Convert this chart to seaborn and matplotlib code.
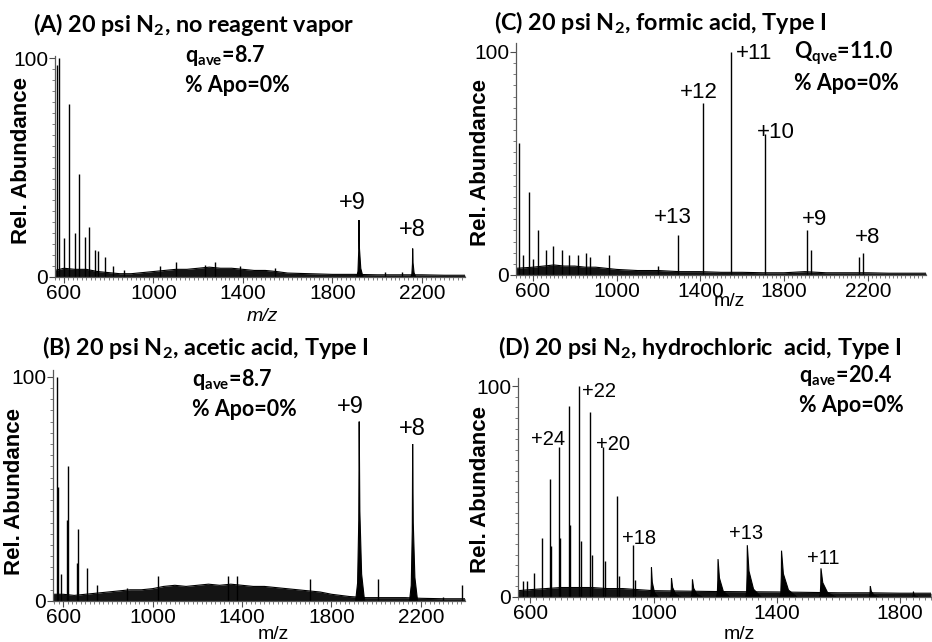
import numpy as np
import pandas as pd
import matplotlib
matplotlib.use("Agg")
import matplotlib.pyplot as plt
import seaborn as sns
from matplotlib.ticker import MultipleLocator, FixedLocator

sns.set_theme(style="ticks")
plt.rcParams['font.family'] = ['Liberation Sans', 'DejaVu Sans']
plt.rcParams['mathtext.fontset'] = 'custom'
plt.rcParams['mathtext.rm'] = 'Lato:bold'
plt.rcParams['mathtext.it'] = 'Lato:bold'
plt.rcParams['mathtext.bf'] = 'Lato:bold'

# ---- panel A : no reagent vapor ----
a_stick_mz = [570, 579, 602, 623, 649, 667, 694, 711, 739, 754, 784, 821, 870, 1029, 1099, 1231, 1275, 1387, 1544, 2035, 2110]
a_stick_h = [97, 100, 18, 79, 20, 47, 18.5, 23, 12.5, 12, 9, 5, 3, 5, 7, 5.6, 7, 5, 4, 2.5, 2.5]
a_broad_mz = [1919, 2159]
a_broad_h = [26, 13]
a_broad_wl = [10, 8]
a_broad_wr = [18, 14]
a_base_mz = [560, 600, 650, 700, 750, 800, 850, 900, 950, 1000, 1050, 1100, 1150, 1200, 1250, 1300, 1350, 1400,
             1450, 1500, 1550, 1600, 1700, 1800, 1900, 2000, 2100, 2200, 2300, 2393]
a_base_h = [3, 4, 3.5, 3.5, 2.5, 2, 1.5, 1.5, 2, 2.5, 3, 3.5, 3.5, 4, 4.5, 4, 4, 3.5,
            3, 3, 2.5, 1.8, 1.5, 1.2, 1.2, 1, 1, 1, 0.8, 0.8]
a_labels = ['+9', '+8']
a_label_mz = [1888, 2156]
a_label_y = [34, 21.5]

# ---- panel B : acetic acid ----
b_stick_mz = [574, 579, 591, 616, 622, 661, 665, 708, 750, 884, 1026, 1339, 1376, 1704, 2009, 2300, 2382]
b_stick_h = [100, 51, 12, 36, 60, 17, 32, 14.5, 7, 6, 11, 11, 11, 10, 9.6, 2, 7]
b_broad_mz = [1924, 2163]
b_broad_h = [80, 70]
b_broad_wl = [16, 14]
b_broad_wr = [24, 22]
b_base_mz = [555, 600, 650, 700, 750, 800, 850, 900, 950, 1000, 1050, 1100, 1150, 1200, 1250, 1300, 1350, 1400,
             1450, 1500, 1550, 1600, 1650, 1700, 1750, 1800, 1880, 1950, 2050, 2130, 2200, 2300, 2397]
b_base_h = [3, 3, 2.5, 3, 3.5, 4, 4.5, 5, 5, 5.5, 6.5, 7, 6.5, 7, 7.5, 7, 7.5, 7,
            6.5, 6.5, 6, 5.5, 5, 4.5, 4, 3, 2, 1.5, 1.5, 1.5, 1.2, 1, 1]
b_labels = ['+9', '+8']
b_label_mz = [1883, 2160]
b_label_y = [86.7, 76.9]

# ---- panel C : formic acid ----
c_stick_mz = [535, 551, 583, 599, 623, 662, 697, 739, 774, 814, 854, 873, 965, 1196,
              1293, 1411, 1546, 1711, 1908, 1929, 2160, 2179]
c_stick_h = [59, 9, 37, 7, 20, 11, 13, 11, 9, 9, 10, 8, 9, 4,
             18, 77, 100, 63, 20, 11, 8, 10]
c_base_mz = [519, 600, 650, 700, 750, 800, 850, 900, 950, 1000, 1100, 1200, 1300, 1400, 1500, 1600, 1700,
             1800, 1900, 2000, 2100, 2200, 2300, 2478]
c_base_h = [3, 3.5, 4, 4.5, 4, 4, 3.5, 3.5, 3, 2.5, 2, 2, 1.5, 1.5, 1.2, 1.2, 1, 1, 1.5, 1, 1, 1, 0.8, 0.8]
c_labels = ['+11', '+12', '+10', '+13', '+9', '+8']
c_label_mz = [1656, 1394, 1762, 1269, 1943, 2201]
c_label_y = [99.5, 82, 63.7, 25.6, 24.7, 17]

# ---- panel D : hydrochloric acid ----
d_stick_mz = [575, 588, 613, 638, 664, 667, 692, 696, 724, 728, 757, 765, 795, 801,
              835, 841, 882, 888, 933, 940]
d_stick_h = [7.6, 7.6, 11.5, 27.8, 56, 24, 71, 28, 90.5, 34, 100, 26.5, 88, 20,
             71, 17, 48, 10, 24.6, 8]
d_broad_mz = [993, 1058, 1126, 1209, 1304, 1415, 1543, 1703, 1843]
d_broad_h = [14, 9, 8.4, 18, 24.6, 22, 13.6, 5.2, 2.5]
d_broad_wl = [4, 5, 5, 5, 5, 5, 5, 4, 3]
d_broad_wr = [22, 30, 32, 38, 45, 50, 48, 28, 14]
d_base_mz = [560, 600, 650, 700, 750, 800, 850, 900, 1000, 1100, 1200, 1300, 1400, 1500, 1600, 1700, 1800, 1900]
d_base_h = [3, 3.5, 4, 4.5, 4.5, 4.5, 4, 4, 3, 2.8, 2.6, 2.5, 2.4, 2.2, 2, 2, 1.8, 1.8]
d_labels = ['+24', '+22', '+20', '+18', '+13', '+11']
d_label_mz = [658, 823, 869, 953, 1301, 1552]
d_label_y = [74.9, 97.6, 72.5, 28, 30.3, 18.5]

titles = ['(A) 20 psi N$_{2}$, no reagent vapor',
          '(B) 20 psi N$_{2}$, acetic acid, Type I',
          '(C) 20 psi N$_{2}$, formic acid, Type I',
          '(D) 20 psi N$_{2}$, hydrochloric  acid, Type I']
charge_text = ['q$_{ave}$=8.7', 'q$_{ave}$=8.7', 'Q$_{qve}$=11.0', 'q$_{ave}$=20.4']
apo_text = ['% Apo=0%'] * 4

W, H = 932, 642
fig = plt.figure(figsize=(W / 100, H / 100), dpi=100)


def add_axes_px(left, top, right, bottom):
    return fig.add_axes([left / W, 1 - bottom / H, (right - left) / W, (bottom - top) / H])


# peak template (relative offsets / heights) for broad peaks
tmpl_off = np.array([-1, -0.45, -0.12, 0, 0.12, 0.45, 1])
tmpl_h = np.array([0, 0.1, 0.45, 1, 0.5, 0.15, 0])

panels = [
    dict(box=(55, 56, 465, 277), xlim=(560, 2393), ylim=(0, 101), xt=[600, 1000, 1400, 1800, 2200],
         sx=a_stick_mz, sh=a_stick_h, bx=a_broad_mz, bh=a_broad_h, bwl=a_broad_wl, bwr=a_broad_wr,
         base_x=a_base_mz, base_h=a_base_h, lab=a_labels, lab_x=a_label_mz, lab_y=a_label_y, lab_fs=17,
         title_px=(33, 25), ann_px=(185, 55, 85), xl=(0.505, -0.14, 'italic'), yl=(-0.056, 0.525)),
    dict(box=(53, 370, 465, 601), xlim=(555, 2397), ylim=(0, 103), xt=[600, 1000, 1400, 1800, 2200],
         sx=b_stick_mz, sh=b_stick_h, bx=b_broad_mz, bh=b_broad_h, bwl=b_broad_wl, bwr=b_broad_wr,
         base_x=b_base_mz, base_h=b_base_h, lab=b_labels, lab_x=b_label_mz, lab_y=b_label_y, lab_fs=17,
         title_px=(42, 348), ann_px=(192, 379, 409), xl=(0.534, -0.108, 'normal'), yl=(-0.068, 0.476)),
    dict(box=(516, 43, 926, 275), xlim=(519, 2478), ylim=(0, 104), xt=[600, 1000, 1400, 1800, 2200],
         sx=c_stick_mz, sh=c_stick_h, bx=[], bh=[], bwl=[], bwr=[],
         base_x=c_base_mz, base_h=c_base_h, lab=c_labels, lab_x=c_label_mz, lab_y=c_label_y, lab_fs=16,
         title_px=(494, 23), ann_px=(794, 53, 83), xl=(0.52, -0.078, 'normal'), yl=(-0.061, 0.487)),
    dict(box=(518, 378, 931, 597), xlim=(560, 1900), ylim=(0, 104), xt=[600, 1000, 1400, 1800],
         sx=d_stick_mz, sh=d_stick_h, bx=d_broad_mz, bh=d_broad_h, bwl=d_broad_wl, bwr=d_broad_wr,
         base_x=d_base_mz, base_h=d_base_h, lab=d_labels, lab_x=d_label_mz, lab_y=d_label_y, lab_fs=14.5,
         title_px=(498, 348), ann_px=(799, 376, 406), xl=(0.535, -0.132, 'normal'), yl=(-0.065, 0.493)),
]

for i, p in enumerate(panels):
    ax = add_axes_px(*p['box'])
    # noisy baseline
    sns.lineplot(x=p['base_x'], y=p['base_h'], ax=ax, color='black', lw=0.8)
    ax.fill_between(p['base_x'], 0, p['base_h'], color='0.08', lw=0)
    # sharp peaks
    ax.vlines(p['sx'], 0, p['sh'], color='black', lw=1.0)
    # broad (tailing) peaks
    for c, h, wl, wr in zip(p['bx'], p['bh'], p['bwl'], p['bwr']):
        xs = c + np.where(tmpl_off < 0, tmpl_off * wl, tmpl_off * wr)
        ax.fill(xs, h * tmpl_h, color='black', lw=0.8)
    for t, x, y in zip(p['lab'], p['lab_x'], p['lab_y']):
        ax.text(x, y, t, ha='center', va='center', fontsize=p['lab_fs'], color='black')

    ax.set_xlim(*p['xlim'])
    ax.set_ylim(*p['ylim'])
    ax.xaxis.set_major_locator(FixedLocator(p['xt']))
    ax.xaxis.set_minor_locator(MultipleLocator(20))
    ax.yaxis.set_major_locator(FixedLocator([0, 100]))
    ax.yaxis.set_minor_locator(MultipleLocator(5))
    ax.tick_params(axis='both', which='major', labelsize=15, length=4, width=0.8,
                   color='0.3', labelcolor='black', pad=1)
    ax.tick_params(axis='both', which='minor', length=2, width=0.6, color='0.4')
    for s in ['top', 'right']:
        ax.spines[s].set_visible(False)
    for s in ['left', 'bottom']:
        ax.spines[s].set_color('0.35')
        ax.spines[s].set_linewidth(0.9)

    ax.set_xlabel('m/z', fontsize=14, style=p['xl'][2], color='black')
    ax.xaxis.set_label_coords(p['xl'][0], p['xl'][1])
    ax.set_ylabel('Rel. Abundance', fontsize=16, fontweight='bold', color='black')
    ax.yaxis.set_label_coords(p['yl'][0], p['yl'][1])

    tx, ty = p['title_px']
    fig.text(tx / W, 1 - ty / H, titles[i], family='Lato', fontweight='bold',
             fontsize=16.8, ha='left', va='center', color='black')
    ax_x, y1, y2 = p['ann_px']
    fig.text(ax_x / W, 1 - y1 / H, charge_text[i], family='Lato', fontweight='bold',
             fontsize=15.5, ha='left', va='center', color='black')
    fig.text(ax_x / W, 1 - y2 / H, apo_text[i], family='Lato', fontweight='bold',
             fontsize=15.5, ha='left', va='center', color='black')

fig.savefig('out.png', dpi=100, facecolor='white')
